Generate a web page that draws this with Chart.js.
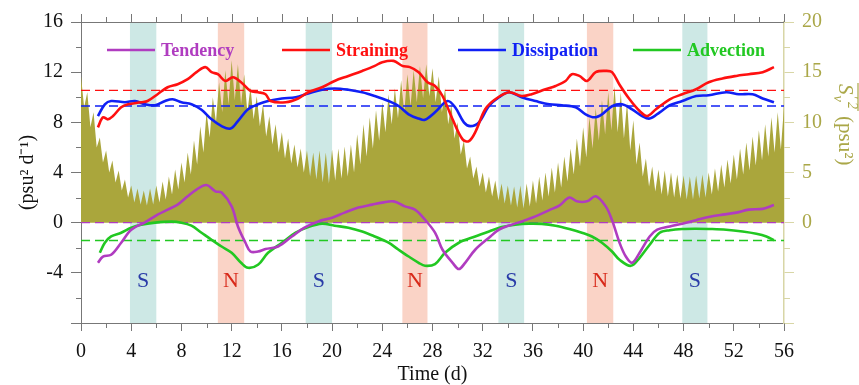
<!DOCTYPE html>
<html><head><meta charset="utf-8">
<script src="https://cdn.jsdelivr.net/npm/chart.js@4.4.1/dist/chart.umd.min.js"></script>
<style>html,body{margin:0;padding:0;background:#fff;}</style>
</head><body>
<canvas id="c" width="859" height="385"></canvas>
<script>
// ---------------- DATA ----------------
const tendDays = [1.35,1.75,2.4,3.2,4.0,5.1,6.1,6.9,7.7,8.5,9.2,10.0,10.7,11.2,12.0,12.5,13.1,13.5,14.1,14.7,15.7,16.8,17.8,18.9,20.0,21.0,22.1,23.2,24.0,24.9,25.8,26.6,27.4,28.2,28.8,29.6,30.1,30.6,31.4,32.5,33.3,34.3,35.1,36.2,37.3,38.1,38.9,39.5,40.3,41.0,41.8,42.3,42.9,43.4,43.9,44.5,45.3,45.9,46.9,47.9,49.0,50.0,51.1,52.2,53.2,54.3,55.2];
const tendVals = [-3.2,-2.7,-2.56,-1.6,-0.56,0.03,0.64,1.04,1.44,2.1,2.64,3.0,2.5,2.4,1.3,-0.3,-1.6,-2.3,-2.3,-2.1,-1.9,-1.1,-0.4,0.1,0.4,0.8,1.2,1.44,1.6,1.7,1.3,1.04,0.24,-0.8,-2.16,-3.2,-3.7,-3.2,-2.16,-1.2,-0.56,-0.16,0.1,0.5,1.0,1.36,2.0,1.7,1.7,2.1,1.3,0.2,-1.6,-2.7,-3.2,-2.4,-1.1,-0.56,-0.3,-0.08,0.2,0.45,0.64,0.8,1.04,1.1,1.4];

const strainDays = [1.35,1.75,2.15,2.55,3.2,3.75,4.8,5.3,6.1,6.9,7.7,8.5,9.2,9.9,10.4,10.9,11.5,12.1,12.75,13.5,14.1,14.7,15.1,16.3,17.3,18.1,19.2,20.2,21.3,22.4,23.4,24.0,24.9,25.6,26.2,26.9,27.6,28.2,28.8,29.6,30.4,30.9,31.4,32.2,33.0,34.1,35.1,35.9,37.0,37.8,38.6,39.1,39.7,40.3,41.0,41.8,42.3,42.9,43.7,44.5,45.1,45.8,46.9,47.9,49.0,50.0,51.1,52.2,53.2,54.3,55.2];
const strainVals = [7.6,8.4,8.24,8.5,9.2,9.44,9.6,9.7,10.24,10.8,11.04,11.44,12.0,12.4,12.0,11.84,11.3,11.6,11.2,10.5,10.4,10.24,9.7,9.6,9.9,10.4,10.8,11.3,11.7,12.1,12.5,12.8,12.9,12.5,12.4,12.0,11.2,10.9,10.1,8.24,6.64,6.5,7.2,9.04,9.84,10.4,10.1,10.24,10.64,10.9,11.3,11.84,11.7,11.3,12.0,12.1,12.0,11.0,9.84,8.9,8.5,9.04,9.84,10.24,10.64,11.2,11.5,11.7,11.84,12.0,12.4];

const dissDays = [1.35,1.9,2.4,3.5,4.3,5.1,5.9,6.7,7.3,8.0,8.8,9.6,10.4,11.2,11.9,12.5,13.3,14.1,14.9,16.0,17.1,18.1,19.2,20.2,21.3,22.4,23.4,24.5,25.3,26.1,26.9,27.4,28.2,29.2,29.8,30.5,31.0,31.7,32.5,33.3,34.1,35.1,36.2,37.3,38.3,39.4,40.2,40.9,41.5,42.3,43.1,43.9,44.7,45.3,46.1,46.9,47.9,49.0,50.0,51.4,52.4,53.5,54.3,55.2];
const dissVals = [8.5,9.44,9.7,9.6,9.7,9.44,9.36,9.7,9.84,9.6,9.44,9.0,8.24,7.7,7.5,8.1,9.04,9.44,9.7,9.9,10.0,10.3,10.6,10.7,10.6,10.4,10.1,9.7,9.3,8.64,8.3,8.2,8.8,9.7,9.2,8.0,7.7,8.0,9.3,10.0,10.4,10.0,9.7,9.44,9.36,9.2,8.64,8.4,8.64,9.28,9.44,9.04,8.5,8.3,8.8,9.36,9.7,10.1,10.16,10.4,10.24,10.24,9.9,9.6];

const advDays = [1.5,1.9,2.4,3.2,4.0,4.8,5.9,7.2,8.0,8.8,9.6,10.4,11.2,12.0,12.75,13.3,14.1,14.9,16.0,17.1,18.1,19.2,20.2,21.3,22.4,23.4,24.5,25.3,26.1,26.9,27.4,28.2,29.0,30.1,31.4,32.5,33.5,34.6,35.7,36.7,37.8,38.9,39.9,40.7,41.5,42.3,42.9,43.8,44.5,45.3,46.1,46.9,47.9,49.0,50.0,51.4,52.7,53.8,54.6,55.2];
const advVals = [-2.4,-1.6,-1.1,-0.8,-0.4,-0.16,0,0.08,0,-0.24,-0.8,-1.36,-1.9,-2.4,-3.2,-3.6,-3.36,-2.4,-1.6,-0.8,-0.35,-0.08,-0.24,-0.4,-0.7,-1.1,-1.6,-2.16,-2.7,-3.2,-3.44,-3.3,-2.4,-1.6,-1.1,-0.7,-0.35,-0.16,-0.08,-0.1,-0.24,-0.5,-0.8,-1.1,-1.6,-2.3,-2.96,-3.44,-2.8,-1.76,-0.8,-0.6,-0.5,-0.48,-0.5,-0.56,-0.7,-0.88,-1.1,-1.4];

// time means (dashed lines)
const meanTend = 0, meanStrain = 10.55, meanDiss = 9.3, meanAdv = -1.42;

// salinity variance (right axis): tidal peaks at t = 0, 0.5, ... 56 d, troughs half-way between
const varPeaks = [14.6,13.0,11.0,8.5,7.2,6.2,5.2,4.3,3.7,3.4,3.2,3.4,3.7,4.1,4.6,5.3,6.0,7.0,8.2,9.6,11.0,12.5,14.0,15.2,16.2,15.8,14.8,13.5,12.6,11.8,10.6,9.8,9.0,8.4,7.8,7.4,7.2,7.0,7.2,7.0,7.3,7.4,7.6,7.8,8.8,9.8,10.5,11.2,12.0,12.8,13.4,14.2,14.8,15.2,15.6,15.8,15.4,14.6,13.4,11.8,10.0,8.2,6.6,5.6,5.0,4.6,4.2,3.9,3.7,3.6,3.7,3.9,4.2,4.6,5.0,5.5,6.0,6.6,7.4,8.4,9.5,10.5,11.4,12.2,13.0,13.6,13.0,12.0,10.2,8.0,6.4,5.6,5.3,5.2,5.0,4.8,4.7,4.6,4.7,4.8,5.0,5.4,5.8,6.3,6.8,7.4,8.0,8.6,9.2,9.8,10.5,11.0,11.6];
const varTroughs = [11.5,9.5,7.5,6.0,5.0,4.0,3.2,2.5,2.0,1.8,1.7,1.8,2.0,2.3,2.8,3.3,4.0,4.8,5.8,7.0,8.5,10.0,11.0,11.8,12.2,11.8,11.0,10.3,9.6,8.6,7.8,7.0,6.4,5.9,5.5,5.0,4.6,4.3,4.0,3.9,4.2,4.4,4.6,5.0,5.8,6.6,7.4,8.2,9.0,9.8,10.4,11.0,11.6,12.0,12.4,12.6,12.0,11.0,9.8,8.4,6.8,5.4,4.4,3.6,3.0,2.6,2.2,1.9,1.7,1.5,1.4,1.6,1.9,2.2,2.6,3.0,3.5,4.1,4.8,5.6,6.5,7.4,8.2,8.8,9.2,9.0,8.4,7.2,5.8,4.6,3.6,3.1,2.8,2.6,2.5,2.4,2.3,2.3,2.4,2.5,2.8,3.1,3.5,3.9,4.3,4.8,5.2,5.7,6.2,6.6,7.0,7.3];

// spring (S) and neap (N) periods, days
const springBands = [[3.9,6.0],[17.9,20.0],[33.25,35.3],[47.9,49.9]];
const neapBands = [[10.9,13.0],[25.6,27.6],[40.3,42.4]];

// axis ticks
const xTickStep = 4, xMinorStep = 2;
const yLeftMin = -8, yLeftMax = 16, yLeftStep = 4;
const yRightMin = -10, yRightMax = 20, yRightStep = 5;

// ---------------- STYLE ----------------
const PURPLE = '#b03cc0', RED = '#ff1010', BLUE = '#1020f5', GREEN = '#22c822';
const OLIVE = '#aaa63c', OLIVE_TXT = '#aaa748', OLIVE_AXIS = '#d8d6a6';
const AXIS = '#777777';
const S_FILL = '#cde8e5', N_FILL = '#fad3c6';
const FONT = '"Liberation Serif", "Times New Roman", serif';

const pts = (d, v) => d.map((x, i) => ({x, y: v[i]}));
const areaPts = [];
for (let i = 0; i < varPeaks.length; i++) {
  areaPts.push({x: i * 0.5, y: varPeaks[i]});
  if (i < varTroughs.length) areaPts.push({x: i * 0.5 + 0.25, y: varTroughs[i]});
}
const meanLine = (m) => [{x: 0, y: m}, {x: 56, y: m}];

const lineDs = (label, data, color) => ({label, data, borderColor: color, backgroundColor: color,
  borderWidth: 2.6, pointRadius: 0, tension: 0.35, fill: false, yAxisID: 'y', order: 0});
const dashDs = (label, m, color) => ({label, data: meanLine(m), borderColor: color, borderWidth: 1.4,
  borderDash: [9, 5], pointRadius: 0, fill: false, yAxisID: 'y', order: 1});

const decor = {
  id: 'decor',
  beforeDatasetsDraw(chart) {
    const {ctx, chartArea: a, scales: {x}} = chart;
    ctx.save();
    const band = (arr, col) => {
      ctx.fillStyle = col;
      arr.forEach(([s, e]) => {
        const x0 = x.getPixelForValue(s), x1 = x.getPixelForValue(e);
        ctx.fillRect(x0, a.top, x1 - x0, a.bottom - a.top);
      });
    };
    band(springBands, S_FILL);
    band(neapBands, N_FILL);
    ctx.restore();
  },
  afterDraw(chart) {
    const {ctx, chartArea: a, scales: {x, y, y2}} = chart;
    ctx.save();
    // top frame and ticks
    ctx.strokeStyle = AXIS; ctx.lineWidth = 1;
    ctx.beginPath(); ctx.moveTo(a.left, a.top + 0.5); ctx.lineTo(a.right, a.top + 0.5); ctx.stroke();
    for (let d = 0; d <= 56; d += xMinorStep) {
      const px = Math.round(x.getPixelForValue(d)) + 0.5;
      const len = d % xTickStep === 0 ? 8 : 5;
      ctx.beginPath(); ctx.moveTo(px, a.top); ctx.lineTo(px, a.top - len); ctx.stroke();
      if (d % xTickStep !== 0) {
        ctx.beginPath(); ctx.moveTo(px, a.bottom); ctx.lineTo(px, a.bottom + 5); ctx.stroke();
      }
    }
    // left minor ticks
    for (let v = yLeftMin + 2; v < yLeftMax; v += yLeftStep) {
      const py = Math.round(y.getPixelForValue(v)) + 0.5;
      ctx.beginPath(); ctx.moveTo(a.left, py); ctx.lineTo(a.left - 5, py); ctx.stroke();
    }
    // right minor ticks
    ctx.strokeStyle = OLIVE_AXIS;
    for (let v = yRightMin + 2.5; v < yRightMax; v += yRightStep) {
      const py = Math.round(y2.getPixelForValue(v)) + 0.5;
      ctx.beginPath(); ctx.moveTo(a.right, py); ctx.lineTo(a.right + 6, py); ctx.stroke();
    }
    // legend
    const legendX = [107, 282, 458, 633];
    ctx.font = 'bold 18px ' + FONT;
    ctx.textBaseline = 'middle';
    for (let i = 0; i < 4; i++) {
      const ds = chart.data.datasets[i];
      const lx = legendX[i], ly = 50;
      ctx.strokeStyle = ds.borderColor; ctx.lineWidth = 2.6;
      ctx.beginPath(); ctx.moveTo(lx, ly); ctx.lineTo(lx + 48, ly); ctx.stroke();
      ctx.fillStyle = ds.borderColor;
      ctx.fillText(ds.label, lx + 54, ly + 1);
    }
    // S / N labels
    ctx.font = '22px ' + FONT;
    ctx.textAlign = 'center';
    ctx.fillStyle = '#2a3ca8';
    springBands.forEach(([s, e]) => ctx.fillText('S', x.getPixelForValue((s + e) / 2), 281));
    ctx.fillStyle = '#d82a1a';
    neapBands.forEach(([s, e]) => ctx.fillText('N', x.getPixelForValue((s + e) / 2), 281));
    // right axis title (rotated, with overline)
    ctx.textAlign = 'left';
    ctx.textBaseline = 'alphabetic';
    ctx.translate(839, 84);
    ctx.rotate(Math.PI / 2);
    ctx.fillStyle = OLIVE_TXT; ctx.strokeStyle = OLIVE_TXT;
    ctx.font = 'italic 21px ' + FONT;
    ctx.fillText('S', 0, 0);
    const wS = ctx.measureText('S').width;
    ctx.font = 'italic 14px ' + FONT;
    ctx.fillText('\u2032 2', wS + 1, -9);
    ctx.fillText('v', wS + 1, 5);
    const wSup = ctx.measureText('\u2032 2').width;
    ctx.lineWidth = 1.2;
    ctx.beginPath(); ctx.moveTo(-1, -19); ctx.lineTo(wS + wSup + 3, -19); ctx.stroke();
    ctx.font = '21px ' + FONT;
    ctx.fillText('(psu\u00b2)', wS + wSup + 8, 0);
    ctx.restore();
  }
};

new Chart(document.getElementById('c'), {
  type: 'line',
  data: {
    datasets: [
      lineDs('Tendency', pts(tendDays, tendVals), PURPLE),
      lineDs('Straining', pts(strainDays, strainVals), RED),
      lineDs('Dissipation', pts(dissDays, dissVals), BLUE),
      lineDs('Advection', pts(advDays, advVals), GREEN),
      dashDs('Tendency mean', meanTend, PURPLE),
      dashDs('Straining mean', meanStrain, RED),
      dashDs('Dissipation mean', meanDiss, BLUE),
      dashDs('Advection mean', meanAdv, GREEN),
      {label: 'Variance', data: areaPts, borderWidth: 0, borderColor: OLIVE, backgroundColor: OLIVE,
       pointRadius: 0, tension: 0, fill: 'origin', yAxisID: 'y2', order: 2}
    ]
  },
  options: {
    responsive: false, animation: false, devicePixelRatio: 1,
    layout: {padding: {top: 22, left: 0, right: 0, bottom: 0}},
    plugins: {legend: {display: false}, tooltip: {enabled: false}},
    scales: {
      x: {
        type: 'linear', min: 0, max: 56,
        afterFit: s => { s.height = 62; },
        ticks: {stepSize: xTickStep, autoSkip: false, maxRotation: 0, padding: 9,
                color: '#111', font: {family: FONT, size: 20}},
        grid: {drawOnChartArea: false, drawTicks: true, tickLength: 8, color: AXIS},
        border: {color: AXIS, width: 1},
        title: {display: true, text: 'Time (d)', color: '#111',
                font: {family: FONT, size: 20, lineHeight: 1}, padding: {top: 0, bottom: 0}}
      },
      y: {
        position: 'left', min: yLeftMin, max: yLeftMax,
        afterFit: s => { s.width = 81; },
        ticks: {stepSize: yLeftStep, padding: 8, color: '#111', font: {family: FONT, size: 20},
                callback: v => (v > yLeftMin ? v : '')},
        grid: {drawOnChartArea: false, drawTicks: true, tickLength: 10, color: AXIS},
        border: {color: AXIS, width: 1},
        title: {display: true, text: '(psu\u00b2 d\u207b\u00b9)', color: '#111',
                font: {family: FONT, size: 20}, padding: {top: 16, bottom: 0}}
      },
      y2: {
        position: 'right', min: yRightMin, max: yRightMax,
        afterFit: s => { s.width = 75; },
        ticks: {stepSize: yRightStep, padding: 8, color: OLIVE_TXT, font: {family: FONT, size: 20},
                callback: v => (v >= 0 ? v : '')},
        grid: {drawOnChartArea: false, drawTicks: true, tickLength: 10, color: OLIVE_AXIS},
        border: {color: OLIVE_AXIS, width: 1.5}
      }
    }
  },
  plugins: [decor]
});
</script>
</body></html>
